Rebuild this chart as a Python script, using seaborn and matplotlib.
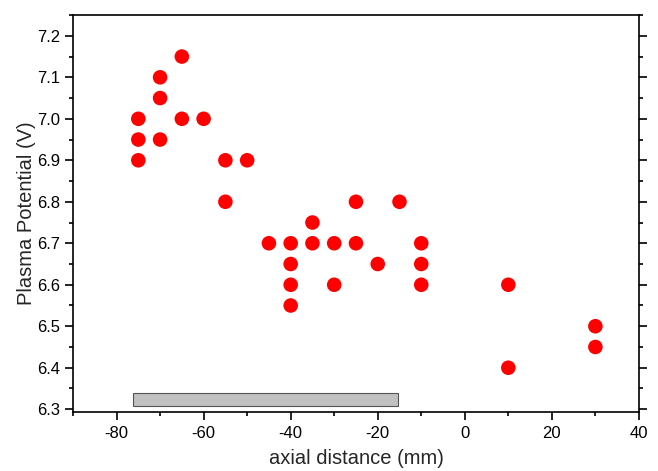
import matplotlib
matplotlib.use("Agg")
import matplotlib.pyplot as plt
import seaborn as sns
import pandas as pd
from matplotlib.ticker import MultipleLocator, FormatStrFormatter
from matplotlib.patches import Rectangle

x_mm = [-75, -75, -75, -70, -70, -70, -65, -65, -60, -55, -55, -50, -45,
        -40, -40, -40, -40, -35, -35, -30, -30, -25, -25, -20, -15,
        -10, -10, -10, 10, 10, 30, 30]
potential_v = [7.0, 6.95, 6.9, 7.1, 7.05, 6.95, 7.15, 7.0, 7.0, 6.9, 6.8, 6.9, 6.7,
               6.7, 6.65, 6.6, 6.55, 6.75, 6.7, 6.7, 6.6, 6.8, 6.7, 6.65, 6.8,
               6.7, 6.65, 6.6, 6.6, 6.4, 6.5, 6.45]
bar_x = [-76.3, -15.3]
bar_y = [6.308, 6.340]

df = pd.DataFrame({"x": x_mm, "y": potential_v})

sns.set_style("white")
plt.rcParams['font.family'] = ['Liberation Sans', 'DejaVu Sans']
plt.rcParams['axes.unicode_minus'] = False

fig = plt.figure(figsize=(6.58, 4.71), dpi=100)
ax = fig.add_axes([0.111, 0.125, 0.860, 0.843])

sns.scatterplot(data=df, x="x", y="y", ax=ax, color="#ff0000", s=110,
                edgecolor="none", linewidth=0, zorder=3, legend=False)

ax.add_patch(Rectangle((bar_x[0], bar_y[0]), bar_x[1] - bar_x[0], bar_y[1] - bar_y[0],
                       facecolor="#c0c0c0", edgecolor="#555555", linewidth=0.8, zorder=2))

ax.set_xlim(-90, 40)
ax.set_ylim(6.293, 7.25)
ax.xaxis.set_major_locator(MultipleLocator(20))
ax.xaxis.set_minor_locator(MultipleLocator(10))
ax.yaxis.set_major_locator(MultipleLocator(0.1))
ax.yaxis.set_minor_locator(MultipleLocator(0.05))
ax.yaxis.set_major_formatter(FormatStrFormatter('%.1f'))

for s in ax.spines.values():
    s.set_color("black")
    s.set_linewidth(1.2)

ax.tick_params(axis="both", which="both", direction="out", colors="black", labelsize=12)
ax.tick_params(axis="x", which="major", length=6, width=1.2, bottom=True, top=False, pad=4)
ax.tick_params(axis="x", which="minor", length=3, width=1.2, bottom=True, top=False)
ax.tick_params(axis="y", which="major", length=6, width=1.2, left=True, right=True, labelright=False, pad=3)
ax.tick_params(axis="y", which="minor", length=3, width=1.2, left=True, right=True)

ax.set_xlabel("axial distance (mm)", fontsize=14.5, labelpad=6)
ax.set_ylabel("Plasma Potential (V)", fontsize=14.5, labelpad=1)

fig.savefig("out.png", dpi=100)
